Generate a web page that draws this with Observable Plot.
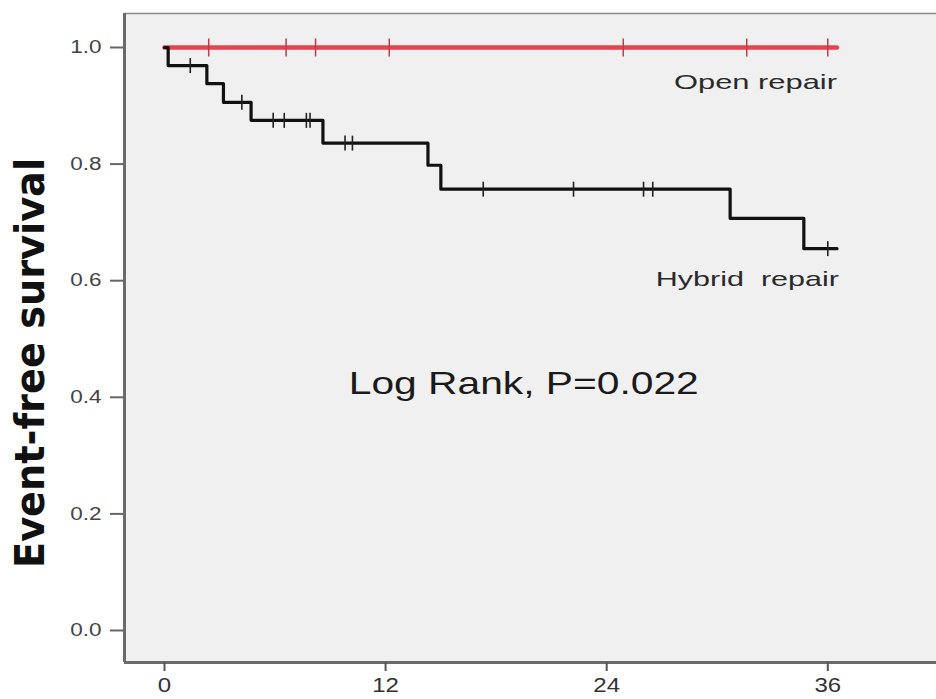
<!DOCTYPE html>
<html>
<head>
<meta charset="utf-8">
<script src="https://cdn.jsdelivr.net/npm/d3@7"></script>
<script src="https://cdn.jsdelivr.net/npm/@observablehq/plot@0.6"></script>
<style>
  html, body { margin: 0; padding: 0; background: #ffffff; }
  #chart svg { display: block; }
</style>
</head>
<body>
<div id="chart"></div>
<script>
// ---- Data ----
const xTicks = [0, 12, 24, 36];
const yTicks = [0, 0.2, 0.4, 0.6, 0.8, 1.0];

// Hybrid repair Kaplan–Meier steps
const hybridTime = [0, 0.2, 2.3, 3.2, 4.7, 8.6, 14.3, 15.0, 30.7, 34.7, 36.5];
const hybridSurv = [1.0, 0.969, 0.938, 0.906, 0.875, 0.836, 0.798, 0.757, 0.707, 0.655, 0.655];
// Hybrid repair censoring marks
const hybridCensorTime = [1.4, 4.2, 5.9, 6.5, 7.7, 7.9, 9.8, 10.2, 17.3, 22.2, 26.0, 26.5, 36.0];
const hybridCensorSurv = [0.969, 0.906, 0.875, 0.875, 0.875, 0.875, 0.836, 0.836, 0.757, 0.757, 0.757, 0.757, 0.655];

// Open repair (no events)
const openTime = [0, 36.5];
const openSurv = [1.0, 1.0];
const openCensorTime = [2.4, 6.6, 8.2, 12.2, 24.9, 31.6, 36.0];
const openCensorSurv = [1, 1, 1, 1, 1, 1, 1];

const labels = ["Open repair", "Hybrid  repair"];
const labelTime = [36.5, 36.6];
const labelSurv = [0.941, 0.602];
const statText = "Log Rank, P=0.022";
const yLabel = "Event-free survival";

// ---- Build tables ----
const hybrid = hybridTime.map((t, i) => ({t, s: hybridSurv[i]}));
const hybridCens = hybridCensorTime.map((t, i) => ({t, s: hybridCensorSurv[i]}));
const open = openTime.map((t, i) => ({t, s: openSurv[i]}));
const openCens = openCensorTime.map((t, i) => ({t, s: openCensorSurv[i]}));
const labelRows = labels.map((l, i) => ({l, t: labelTime[i], s: labelSurv[i]}));

const xDomain = [-2.17, 41.9];
const yDomain = [-0.0549, 1.0583];

const tickSymbol = {
  draw(ctx, size) {
    const r = Math.sqrt(size / Math.PI);
    ctx.moveTo(0, -r);
    ctx.lineTo(0, r);
  }
};

const font = "'Liberation Sans', Arial, sans-serif";
const axisColor = "#6a6a6a";

const chart = Plot.plot({
  width: 936,
  height: 699,
  marginTop: 13,
  marginLeft: 124,
  marginRight: 0,
  marginBottom: 37,
  style: {fontFamily: font, background: "#ffffff", overflow: "visible"},
  x: {domain: xDomain},
  y: {domain: yDomain},
  marks: [
    Plot.frame({fill: "#f0f0f0", stroke: null}),
    Plot.ruleY([yDomain[1]], {stroke: "#8a8a8a", strokeWidth: 1.5}),
    Plot.ruleX([xDomain[0]], {stroke: axisColor, strokeWidth: 3}),
    Plot.ruleY([yDomain[0]], {stroke: axisColor, strokeWidth: 3}),
    Plot.axisX({ticks: xTicks, tickSize: 9, tickPadding: 6, tickFormat: d3.format("d"),
      fontSize: 20, color: "#333", stroke: "#555", strokeWidth: 2, label: null}),
    Plot.axisY({ticks: yTicks, tickSize: 14, tickPadding: 9, tickFormat: d3.format(".1f"),
      fontSize: 18, color: "#444", stroke: "#666", strokeWidth: 2, label: null}),
    // Open repair
    Plot.line(open, {x: "t", y: "s", stroke: "#e5434f", strokeWidth: 4.5, curve: "step-after"}),
    Plot.dot(openCens, {x: "t", y: "s", symbol: tickSymbol, r: 9, stroke: "#c23a44", strokeWidth: 1.5}),
    // Hybrid repair
    Plot.line(hybrid, {x: "t", y: "s", stroke: "#111", strokeWidth: 3.2, curve: "step-after"}),
    Plot.dot(hybridCens, {x: "t", y: "s", symbol: tickSymbol, r: 7.5, stroke: "#222", strokeWidth: 1.6}),
    // Labels
    Plot.text(labelRows, {x: "t", y: "s", text: "l", textAnchor: "end", lineAnchor: "middle",
      fontSize: 21, fill: "#2a2a2a", className: "curve-label"}),
    Plot.text([statText], {x: 19.5, y: 0.424, text: d => d, lineAnchor: "middle",
      fontSize: 32, fill: "#1a1a1a", className: "stat-label"}),
    Plot.text([yLabel], {frameAnchor: "left", dx: -93, dy: 230, rotate: -90, text: d => d,
      textAnchor: "start", lineAnchor: "middle", fontSize: 40, fontWeight: "bold", fill: "#111",
      fontFamily: "'Liberation Sans Narrow', 'Arial Narrow', 'DejaVu Sans Condensed', 'Liberation Sans', sans-serif",
      className: "y-label"})
  ]
});

document.getElementById("chart").appendChild(chart);

// Stretch text horizontally to match the reference's wide glyphs
function fitText(sel, targetFn) {
  chart.querySelectorAll(sel).forEach(t => {
    const w = t.getComputedTextLength();
    const target = targetFn(t, w);
    if (target && w > 0) {
      t.setAttribute("textLength", target);
      t.setAttribute("lengthAdjust", "spacingAndGlyphs");
    }
  });
}
fitText("g[aria-label='x-axis tick label'] text", (t, w) => w * 1.2);
fitText("g[aria-label='y-axis tick label'] text", (t, w) => w * 1.25);
fitText(".curve-label text", (t, w) => t.textContent.startsWith("Open") ? 163 : 183);
fitText(".stat-label text", () => 350);
fitText(".y-label text", () => 410);
</script>
</body>
</html>
